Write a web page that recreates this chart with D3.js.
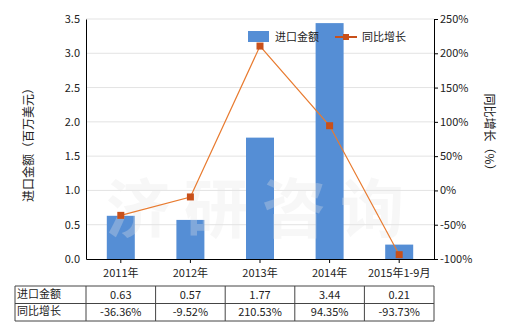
<!DOCTYPE html>
<html>
<head>
<meta charset="utf-8">
<script src="https://cdn.jsdelivr.net/npm/d3@7"></script>
<style>
  body { margin: 0; background: #fff; }
  text { font-family: "Noto Sans CJK SC", "Noto Sans", sans-serif; }
</style>
</head>
<body>
<div id="chart"></div>
<script>
// chart data
const categories = ["2011年", "2012年", "2013年", "2014年", "2015年1-9月"];
const importValues = [0.63, 0.57, 1.77, 3.44, 0.21];
const growthValues = [-36.36, -9.52, 210.53, 94.35, -93.73];
const importLabels = ["0.63", "0.57", "1.77", "3.44", "0.21"];
const growthLabels = ["-36.36%", "-9.52%", "210.53%", "94.35%", "-93.73%"];
const leftTicks = [0, 0.5, 1, 1.5, 2, 2.5, 3, 3.5];
const rightTicks = [-100, -50, 0, 50, 100, 150, 200, 250];

const width = 520, height = 330;
const plot = {left: 86, right: 434, top: 19, bottom: 259};
const barColor = "#558ed5";
const lineColor = "#e87b30";
const markColor = "#c8501a";
const textColor = "#222";

const svg = d3.select("#chart").append("svg")
  .attr("width", width).attr("height", height);

let x = d3.scaleBand().domain(categories).range([plot.left, plot.right]);
let yL = d3.scaleLinear().domain([0, 3.5]).range([plot.bottom, plot.top]);
let yR = d3.scaleLinear().domain([-100, 250]).range([plot.bottom, plot.top]);

// grid lines
svg.append("g").selectAll("line")
  .data(leftTicks.slice(1)).enter().append("line")
  .attr("x1", plot.left).attr("x2", plot.right)
  .attr("y1", d => yL(d)).attr("y2", d => yL(d))
  .style("stroke", "#e3e3e3").style("stroke-width", 1);

// bars
let barW = 28;
svg.append("g").selectAll("rect")
  .data(importValues).enter().append("rect")
  .attr("x", (d, i) => x(categories[i]) + x.bandwidth() / 2 - barW / 2)
  .attr("y", d => yL(d))
  .attr("width", barW)
  .attr("height", d => plot.bottom - yL(d))
  .style("fill", barColor);

// watermark
svg.append("text")
  .text("济研咨询")
  .attr("x", 262).attr("y", 232)
  .attr("text-anchor", "middle")
  .style("font-size", "64px").style("font-weight", "bold")
  .style("letter-spacing", "14px")
  .style("fill", "#e6e6e6").style("opacity", 0.3);

// growth line
let line = d3.line()
  .x((d, i) => x(categories[i]) + x.bandwidth() / 2)
  .y(d => yR(d));
svg.append("path")
  .datum(growthValues)
  .attr("d", line)
  .style("fill", "none")
  .style("stroke", lineColor)
  .style("stroke-width", 1.2);
svg.append("g").selectAll("rect")
  .data(growthValues).enter().append("rect")
  .attr("x", (d, i) => x(categories[i]) + x.bandwidth() / 2 - 3.5)
  .attr("y", d => yR(d) - 3.5)
  .attr("width", 7).attr("height", 7)
  .style("fill", markColor);

// left axis
let leftAxis = d3.axisLeft(yL).tickValues(leftTicks)
  .tickFormat(d3.format(".1f")).tickSize(0).tickPadding(6);
let gL = svg.append("g").attr("transform", "translate(" + plot.left + ",0)").call(leftAxis);
gL.select(".domain").style("stroke", "#000");
gL.selectAll("text").style("font-size", "11px").style("fill", textColor)
  .style("font-family", "'Noto Sans CJK SC', sans-serif");

// right axis
let rightAxis = d3.axisRight(yR).tickValues(rightTicks)
  .tickFormat(d => d + "%").tickSize(4).tickPadding(2);
let gR = svg.append("g").attr("transform", "translate(" + plot.right + ",0)").call(rightAxis);
gR.select(".domain").style("stroke", "#000");
gR.selectAll("line").style("stroke", "#000");
gR.selectAll("text").style("font-size", "11px").style("fill", textColor)
  .style("font-family", "'Noto Sans CJK SC', sans-serif");

// bottom axis
let bottomAxis = d3.axisBottom(x).tickSize(4).tickPadding(6).tickSizeOuter(0);
let gB = svg.append("g").attr("transform", "translate(0," + plot.bottom + ")").call(bottomAxis);
gB.select(".domain").style("stroke", "#000");
gB.selectAll("line").style("stroke", "#000");
gB.selectAll("text").style("font-size", "11px").style("fill", textColor)
  .style("font-family", "'Noto Sans CJK SC', sans-serif");

// axis titles
svg.append("text")
  .text("进口金额（百万美元）")
  .attr("transform", "translate(33,142) rotate(-90)")
  .attr("text-anchor", "middle")
  .style("font-size", "12px").style("fill", textColor);
svg.append("text")
  .text("同比增长（%）")
  .attr("transform", "translate(485,135) rotate(90)")
  .attr("text-anchor", "middle")
  .style("font-size", "12px").style("fill", textColor);

// legend
let legend = svg.append("g");
legend.append("rect")
  .attr("x", 248).attr("y", 31).attr("width", 21).attr("height", 11)
  .style("fill", barColor);
legend.append("text").text("进口金额")
  .attr("x", 275).attr("y", 41)
  .style("font-size", "11px").style("fill", textColor);
legend.append("line")
  .attr("x1", 335).attr("x2", 357).attr("y1", 37).attr("y2", 37)
  .style("stroke", markColor).style("stroke-width", 2);
legend.append("rect")
  .attr("x", 343).attr("y", 34).attr("width", 6).attr("height", 6)
  .style("fill", markColor);
legend.append("text").text("同比增长")
  .attr("x", 362).attr("y", 41)
  .style("font-size", "11px").style("fill", textColor);

// data table
let table = {left: 15, top: 286, rowH: 17.5};
let rows = [
  {name: "进口金额", vals: importLabels},
  {name: "同比增长", vals: growthLabels}
];
let tg = svg.append("g");
let tableBottom = table.top + table.rowH * rows.length;
// horizontal lines
d3.range(rows.length + 1).forEach(function(r) {
  tg.append("line")
    .attr("x1", table.left).attr("x2", plot.right)
    .attr("y1", table.top + r * table.rowH).attr("y2", table.top + r * table.rowH)
    .style("stroke", "#444").style("stroke-width", 1);
});
// vertical lines
let vx = [table.left, plot.left].concat(categories.map(c => x(c) + x.bandwidth()));
vx.forEach(function(v) {
  tg.append("line")
    .attr("x1", v).attr("x2", v)
    .attr("y1", table.top).attr("y2", tableBottom)
    .style("stroke", "#444").style("stroke-width", 1);
});
rows.forEach(function(row, r) {
  let cy = table.top + r * table.rowH + table.rowH / 2 + 4;
  tg.append("text").text(row.name)
    .attr("x", table.left + 2).attr("y", cy - 1)
    .style("font-size", "11px").style("fill", textColor);
  tg.selectAll(".cell" + r)
    .data(row.vals).enter().append("text")
    .text(d => d)
    .attr("x", (d, i) => x(categories[i]) + x.bandwidth() / 2)
    .attr("y", cy)
    .attr("text-anchor", "middle")
    .style("font-size", "11px").style("fill", textColor);
});
</script>
</body>
</html>
